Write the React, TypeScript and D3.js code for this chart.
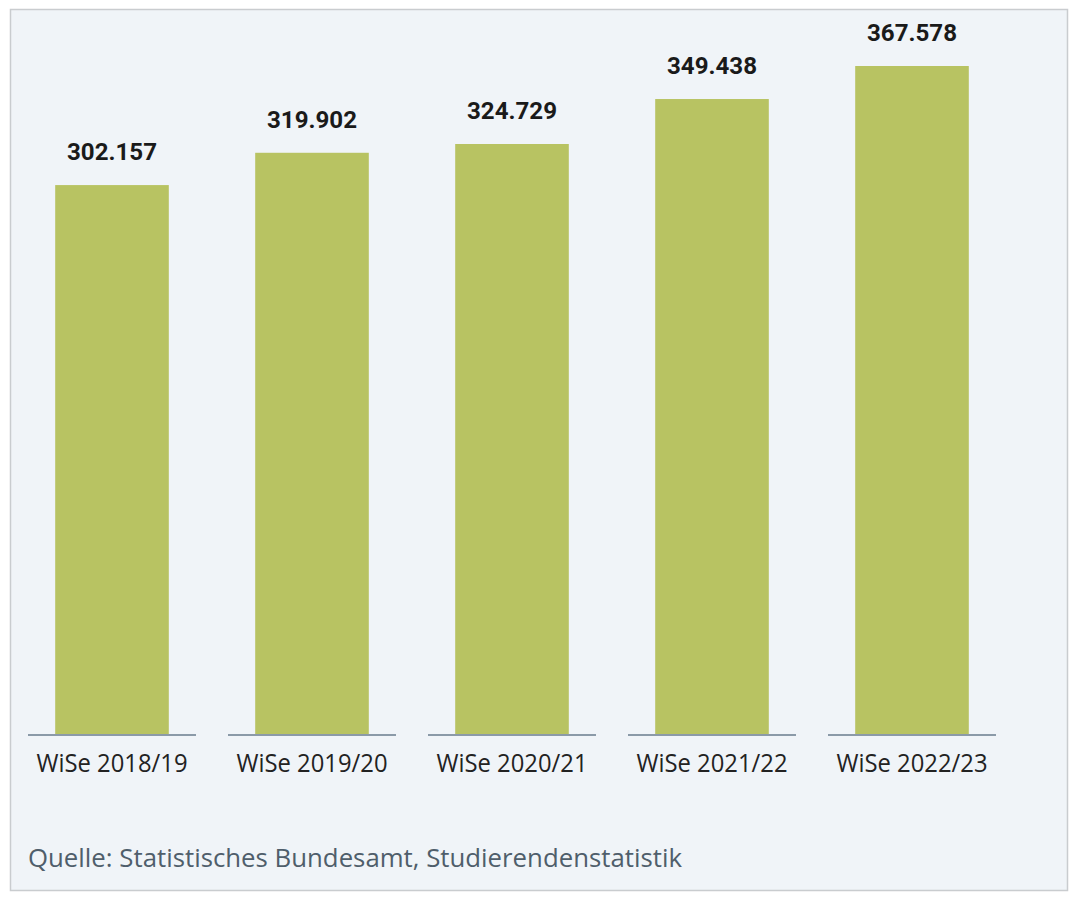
import React from "react";
import * as d3 from "d3";

const categories = ["WiSe 2018/19", "WiSe 2019/20", "WiSe 2020/21", "WiSe 2021/22", "WiSe 2022/23"];
const values = [302157, 319902, 324729, 349438, 367578];
const valueLabels = ["302.157", "319.902", "324.729", "349.438", "367.578"];
const sourceText = "Quelle: Statistisches Bundesamt, Studierendenstatistik";

export default function App() {
  const W = 1080;
  const H = 902;
  const x = d3.scaleBand<string>().domain(categories).range([12, 1012]).padding(0);
  const y = d3.scaleLinear().domain([0, 400000]).range([735, 7]);
  const bw = x.bandwidth();
  const barW = bw * 0.568;
  const segW = bw * 0.84;
  return (
    <svg width={W} height={H} style={{ position: "absolute", left: 0, top: 0, display: "block" }}>
      <rect x={0} y={0} width={W} height={H} fill="#ffffff" />
      <rect x={10.5} y={9.5} width={1057} height={881} fill="#f0f4f8" stroke="#c9cccf" strokeWidth={1.5} />
      {categories.map((c, i) => {
        const cx = (x(c) as number) + bw / 2;
        return (
          <g key={c}>
            <rect x={cx - barW / 2} y={y(values[i])} width={barW} height={y(0) - y(values[i])} fill="#b8c362" />
            <line x1={cx - segW / 2} x2={cx + segW / 2} y1={y(0)} y2={y(0)} stroke="#8b9aa8" strokeWidth={2} />
            <text
              x={cx}
              y={y(values[i]) - 25}
              textAnchor="middle"
              fontFamily="Roboto, 'Noto Sans', sans-serif"
              fontWeight={700}
              fontSize={24}
              fill="#1a1a1a"
              textLength={90}
              lengthAdjust="spacingAndGlyphs"
            >
              {valueLabels[i]}
            </text>
            <text
              x={cx}
              y={772}
              textAnchor="middle"
              fontFamily="'Open Sans', 'Noto Sans', sans-serif"
              fontSize={25}
              fill="#222222"
              textLength={151}
              lengthAdjust="spacingAndGlyphs"
            >
              {c}
            </text>
          </g>
        );
      })}
      <text
        x={28}
        y={867}
        fontFamily="'Open Sans', 'Noto Sans', sans-serif"
        fontSize={26}
        fill="#4f5e6b"
        textLength={654}
        lengthAdjust="spacingAndGlyphs"
      >
        {sourceText}
      </text>
    </svg>
  );
}
